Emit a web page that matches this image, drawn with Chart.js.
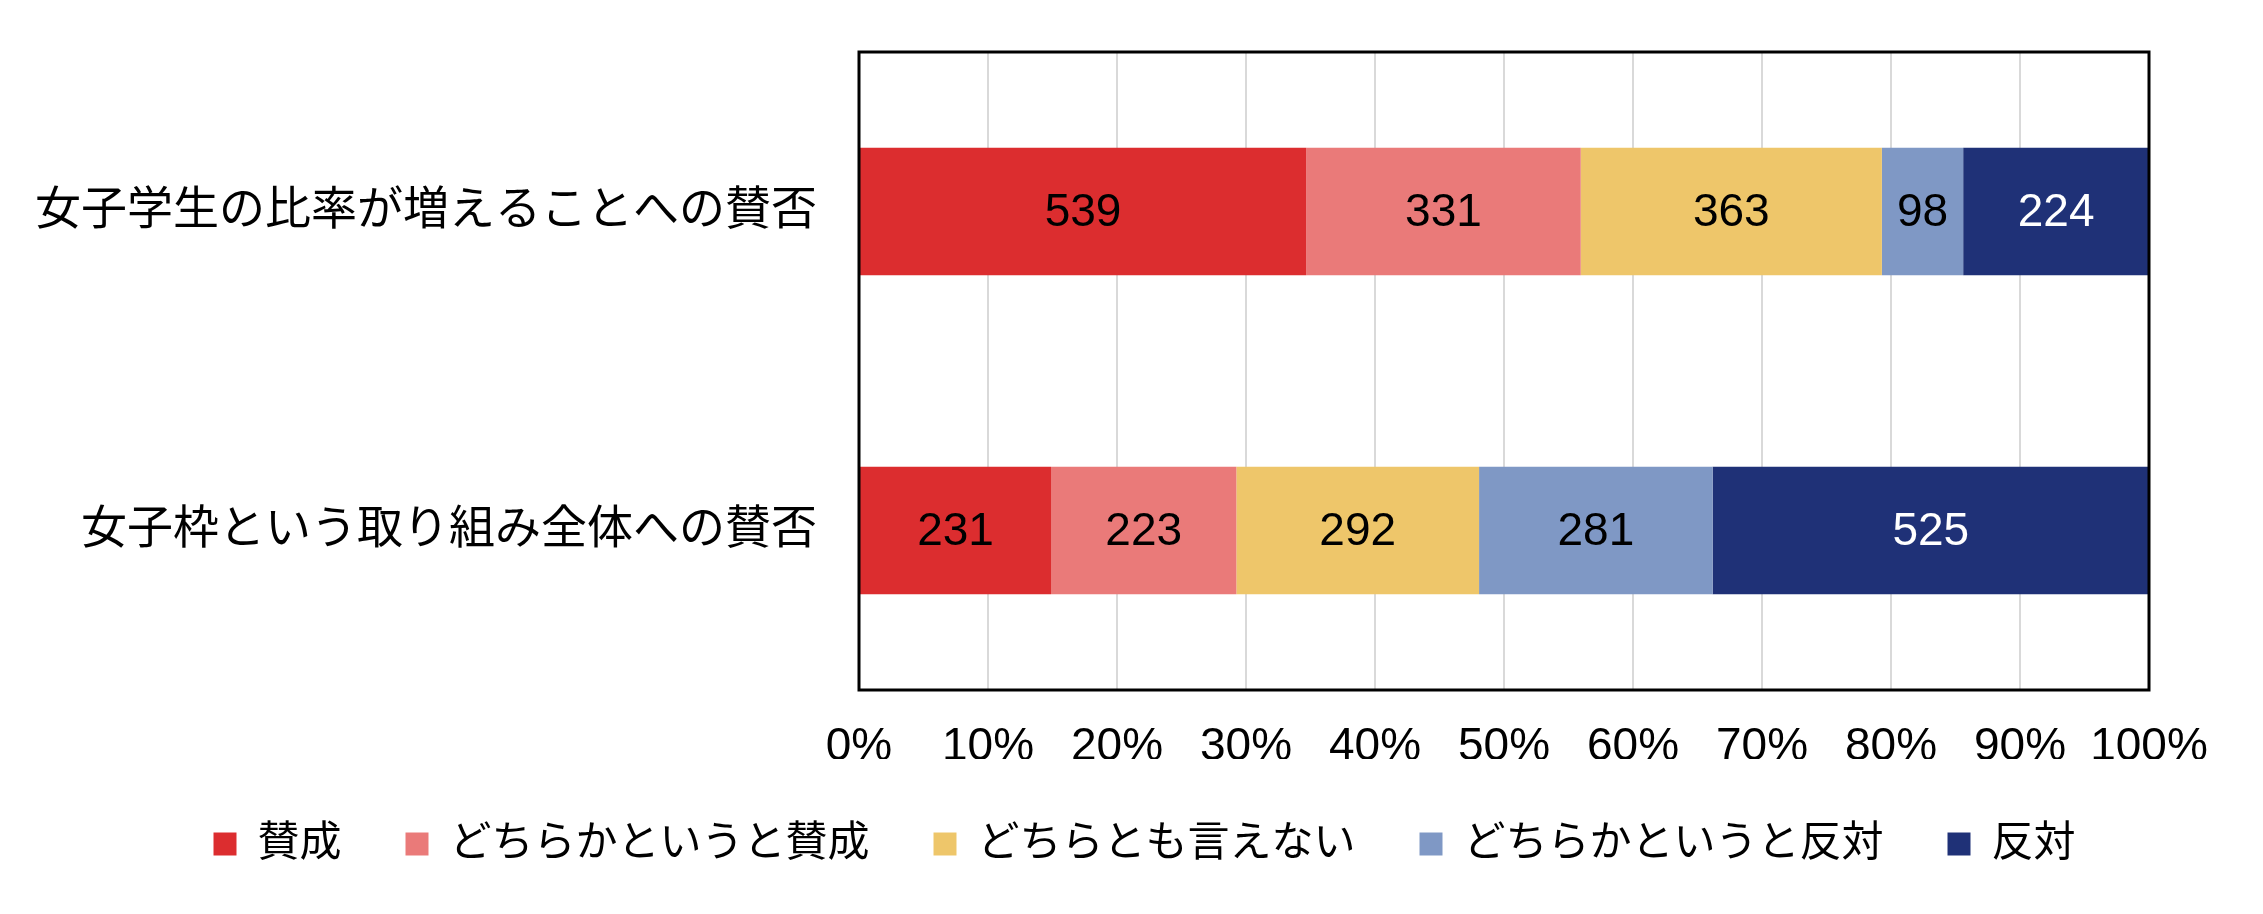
<!DOCTYPE html>
<html lang="ja">
<head>
<meta charset="utf-8">
<title>女子枠への賛否</title>
<script src="https://cdn.jsdelivr.net/npm/chart.js@4.4.1/dist/chart.umd.min.js"></script>
<style>
  html, body { margin: 0; padding: 0; background: #fff; }
  #wrap { width: 2263px; height: 914px; }
</style>
</head>
<body>
<div id="wrap"><canvas id="chart" width="2263" height="914"></canvas></div>
<script>
// categories (top to bottom)
const categories = ['女子学生の比率が増えることへの賛否', '女子枠という取り組み全体への賛否'];

// answer options, left to right
const answers = ['賛成', 'どちらかというと賛成', 'どちらとも言えない', 'どちらかというと反対', '反対'];
const answerColors = ['#DC2D2F', '#EA7A79', '#EEC66A', '#7F98C5', '#1F3177'];
const labelColors = ['#000', '#000', '#000', '#000', '#fff'];

// counts per answer, one value per category
const agree = [539, 231];
const ratherAgree = [331, 223];
const neutral = [363, 292];
const ratherDisagree = [98, 281];
const disagree = [224, 525];

const tickLabels = ['0%', '10%', '20%', '30%', '40%', '50%', '60%', '70%', '80%', '90%', '100%'];

const counts = [agree, ratherAgree, neutral, ratherDisagree, disagree];
const totals = categories.map((c, i) => counts.reduce((s, arr) => s + arr[i], 0));

const fontFamily = '"Liberation Sans", Arial, "Noto Sans CJK JP", sans-serif';

// count labels in the middle of each segment
const segmentLabels = {
  id: 'segmentLabels',
  afterDatasetsDraw(chart) {
    const ctx = chart.ctx;
    ctx.save();
    ctx.font = '46px ' + fontFamily;
    ctx.textAlign = 'center';
    ctx.textBaseline = 'middle';
    chart.data.datasets.forEach((ds, di) => {
      const meta = chart.getDatasetMeta(di);
      meta.data.forEach((bar, i) => {
        const p = bar.getProps(['x', 'y', 'base'], true);
        ctx.fillStyle = labelColors[di];
        ctx.fillText(String(ds.counts[i]), (p.x + p.base) / 2, p.y + 2);
      });
    });
    ctx.restore();
  }
};

// black frame round the plot area
const plotFrame = {
  id: 'plotFrame',
  afterDraw(chart) {
    const a = chart.chartArea;
    const ctx = chart.ctx;
    ctx.save();
    ctx.strokeStyle = '#000';
    ctx.lineWidth = 3;
    ctx.strokeRect(a.left, a.top, a.right - a.left, a.bottom - a.top);
    ctx.restore();
  }
};

new Chart(document.getElementById('chart'), {
  type: 'bar',
  data: {
    labels: categories,
    datasets: answers.map((name, di) => ({
      label: name,
      data: counts[di].map((v, i) => v / totals[i] * 100),
      counts: counts[di],
      backgroundColor: answerColors[di],
      borderWidth: 0,
      barPercentage: 1,
      categoryPercentage: 0.4,
    })),
  },
  options: {
    indexAxis: 'y',
    responsive: false,
    animation: false,
    devicePixelRatio: 1,
    layout: { padding: { top: 52, right: 0, left: 26, bottom: 39 } },
    scales: {
      x: {
        stacked: true,
        min: 0,
        max: 100,
        ticks: {
          stepSize: 10,
          padding: 30,
          color: '#000',
          font: { size: 46, family: fontFamily },
          maxRotation: 0,
          callback: (v, i) => tickLabels[i],
        },
        grid: { color: '#D9D9D9', lineWidth: 2, drawTicks: false },
        border: { display: false },
        afterFit: (scale) => {
          scale.height = 69;
          scale.paddingLeft = 0;
          scale.paddingRight = 114;
        },
      },
      y: {
        stacked: true,
        ticks: {
          padding: 42,
          color: '#000',
          font: { size: 46, family: fontFamily },
        },
        grid: { display: false, drawTicks: false },
        border: { display: false },
        afterFit: (scale) => {
          scale.width = 833;
          scale.paddingTop = 0;
          scale.paddingBottom = 0;
        },
      },
    },
    plugins: {
      legend: {
        position: 'bottom',
        labels: {
          boxWidth: 23,
          boxHeight: 23,
          padding: 64,
          color: '#000',
          font: { size: 42, family: fontFamily },
        },
      },
      tooltip: { enabled: false },
    },
  },
  plugins: [segmentLabels, plotFrame],
});
</script>
</body>
</html>
